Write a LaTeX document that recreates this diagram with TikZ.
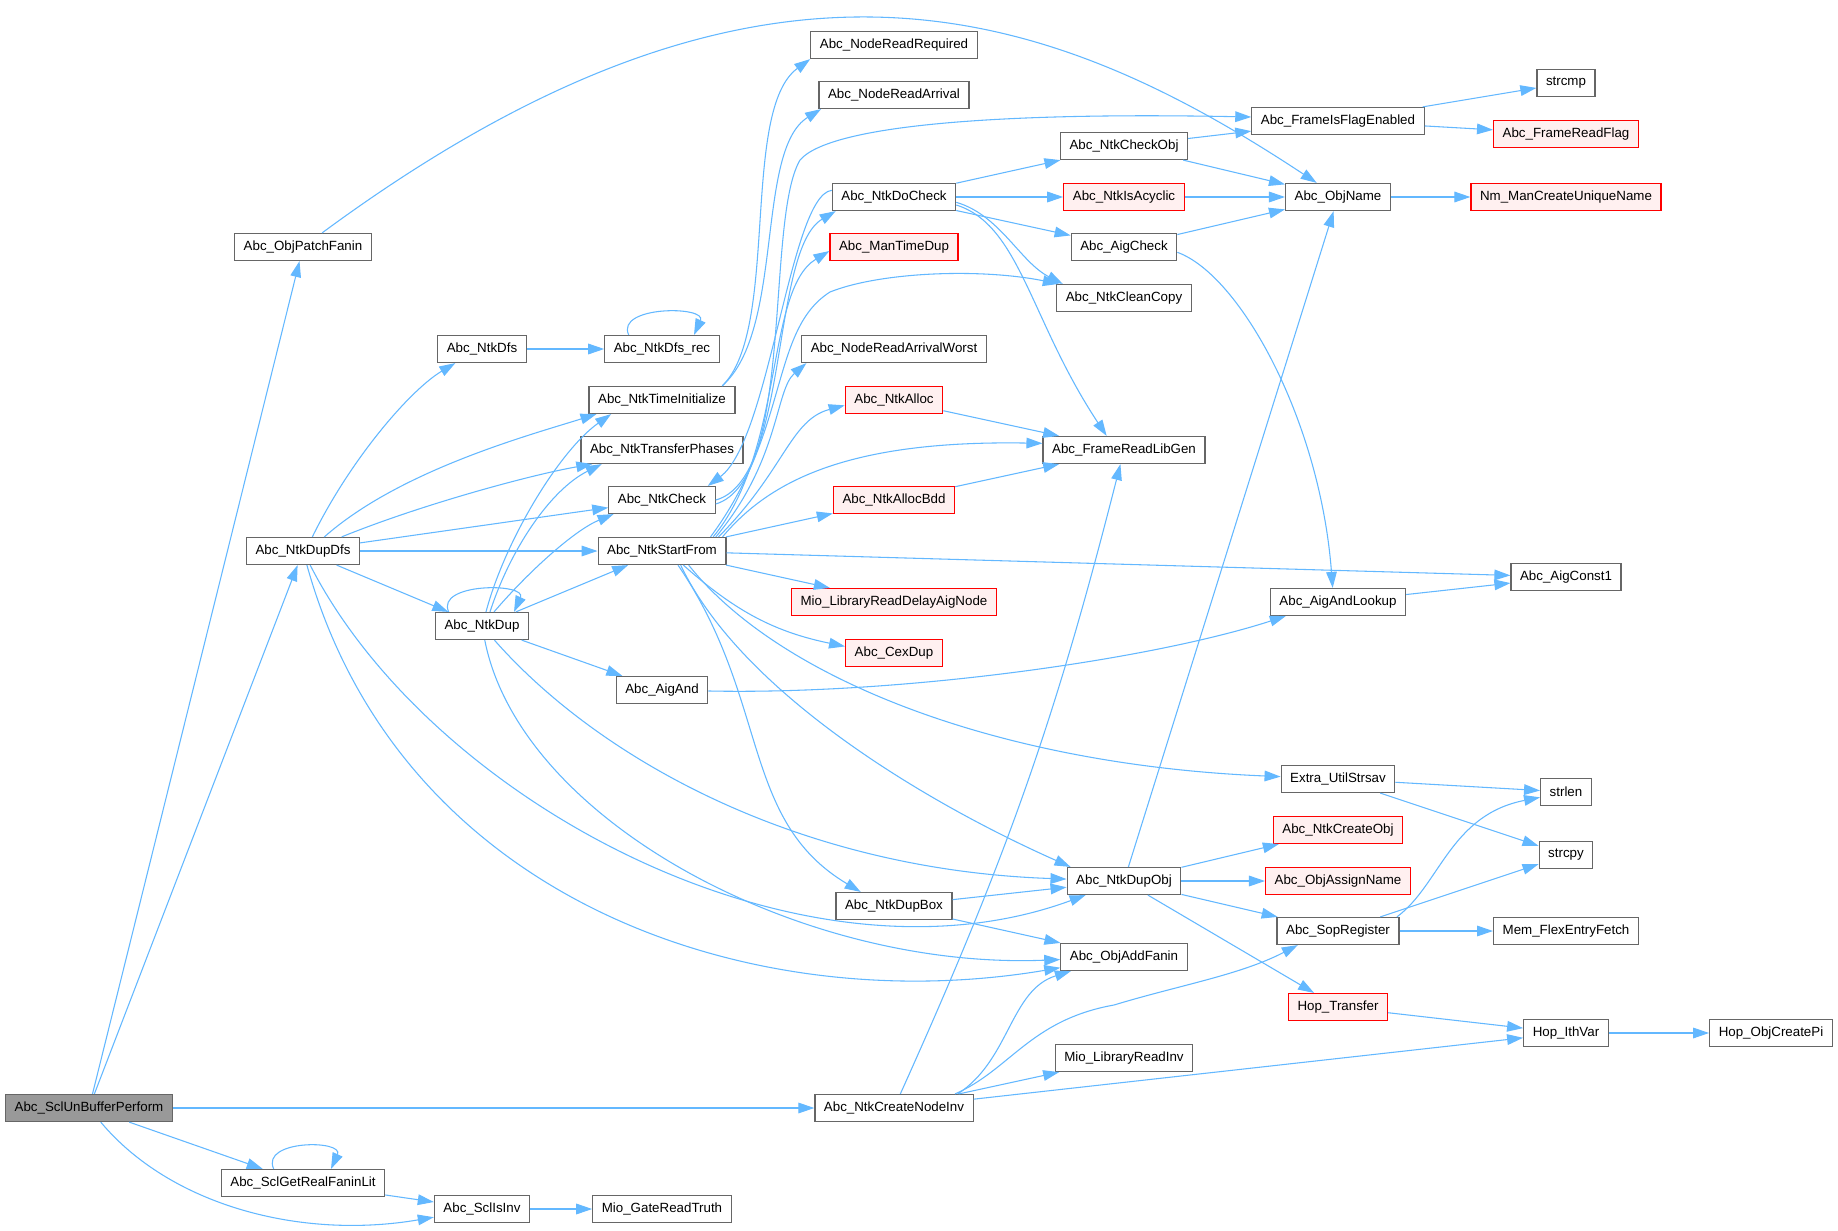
\documentclass[tikz,border=0pt]{standalone}
\usepackage{fontspec}
\setmainfont{Liberation Sans}
\usetikzlibrary{arrows.meta}

\definecolor{calledge}{HTML}{63B8FF}
\definecolor{boxline}{HTML}{666666}
\definecolor{redfill}{HTML}{FFF0F0}
\definecolor{rootfill}{HTML}{999999}

\begin{document}
\begin{tikzpicture}[
    x=0.75pt, y=-0.75pt,
    func/.style={draw=boxline, fill=white, line width=0.9pt, inner xsep=6.8pt, inner ysep=0pt, minimum height=20.25pt, font=\fontsize{10}{12}\selectfont},
    redfunc/.style={func, draw=red, fill=redfill},
    rootfunc/.style={func, fill=rootfill},
    call/.style={draw=calledge, line width=0.8pt, -{Triangle[length=12pt, width=8pt]}}
]
\path[use as bounding box, fill=white] (0,0) rectangle (1838,1231);

% Caller
\node[rootfunc] (sub) at (89,1108) {Abc\_SclUnBufferPerform};

% Second column
\node[func] (patch) at (303,247) {Abc\_ObjPatchFanin};
\node[func] (dupdfs) at (303,551) {Abc\_NtkDupDfs};
\node[func] (getlit) at (303,1183) {Abc\_SclGetRealFaninLit};

% Third column
\node[func] (dfs) at (482,349) {Abc\_NtkDfs};
\node[func] (dup) at (482,626) {Abc\_NtkDup};
\node[func] (isinv) at (482,1209) {Abc\_SclIsInv};

% Fourth column
\node[func] (dfsrec) at (662,349) {Abc\_NtkDfs\_rec};
\node[func] (timeinit) at (662,400) {Abc\_NtkTimeInitialize};
\node[func] (phases) at (662,450) {Abc\_NtkTransferPhases};
\node[func] (check) at (662,500) {Abc\_NtkCheck};
\node[func] (startfrom) at (662,551) {Abc\_NtkStartFrom};
\node[func] (aigand) at (662,690) {Abc\_AigAnd};
\node[func] (truth) at (662,1209) {Mio\_GateReadTruth};

% Fifth column
\node[func] (readreq) at (894,45) {Abc\_NodeReadRequired};
\node[func] (readarr) at (894,95) {Abc\_NodeReadArrival};
\node[func] (docheck) at (894,197) {Abc\_NtkDoCheck};
\node[redfunc] (timedup) at (894,247) {Abc\_ManTimeDup};
\node[func] (arrworst) at (894,349) {Abc\_NodeReadArrivalWorst};
\node[redfunc] (ntkalloc) at (894,400) {Abc\_NtkAlloc};
\node[redfunc] (allocbdd) at (894,500) {Abc\_NtkAllocBdd};
\node[redfunc] (delayaig) at (894,602) {Mio\_LibraryReadDelayAigNode};
\node[redfunc] (cexdup) at (894,653) {Abc\_CexDup};
\node[func] (dupbox) at (894,906) {Abc\_NtkDupBox};
\node[func] (nodeinv) at (894,1108) {Abc\_NtkCreateNodeInv};

% Sixth column
\node[func] (checkobj) at (1124,146) {Abc\_NtkCheckObj};
\node[redfunc] (acyclic) at (1124,197) {Abc\_NtkIsAcyclic};
\node[func] (aigcheck) at (1124,247) {Abc\_AigCheck};
\node[func] (cleancopy) at (1124,298) {Abc\_NtkCleanCopy};
\node[func] (libgen) at (1124,450) {Abc\_FrameReadLibGen};
\node[func] (dupobj) at (1124,881) {Abc\_NtkDupObj};
\node[func] (addfanin) at (1124,957) {Abc\_ObjAddFanin};
\node[func] (readinv) at (1124,1058) {Mio\_LibraryReadInv};

% Seventh column
\node[func] (flagen) at (1338,121) {Abc\_FrameIsFlagEnabled};
\node[func] (objname) at (1338,197) {Abc\_ObjName};
\node[func] (andlookup) at (1338,602) {Abc\_AigAndLookup};
\node[func] (strsav) at (1338,779) {Extra\_UtilStrsav};
\node[redfunc] (createobj) at (1338,830) {Abc\_NtkCreateObj};
\node[redfunc] (assignname) at (1338,881) {Abc\_ObjAssignName};
\node[func] (sopreg) at (1338,931) {Abc\_SopRegister};
\node[redfunc] (hoptrans) at (1338,1007) {Hop\_Transfer};

% Eighth column
\node[func] (strcmp) at (1566,83) {strcmp};
\node[redfunc] (readflag) at (1566,134) {Abc\_FrameReadFlag};
\node[redfunc] (uniqname) at (1566,197) {Nm\_ManCreateUniqueName};
\node[func] (const1) at (1566,577) {Abc\_AigConst1};
\node[func] (strlen) at (1566,792) {strlen};
\node[func] (strcpy) at (1566,855) {strcpy};
\node[func] (flexfetch) at (1566,931) {Mem\_FlexEntryFetch};
\node[func] (ithvar) at (1566,1033) {Hop\_IthVar};
\node[func] (createpi) at (1771,1033) {Hop\_ObjCreatePi};

% Calls from the caller
\draw[call] (sub) -- (patch);
\draw[call] (sub) -- (dupdfs);
\draw[call] (sub) -- (nodeinv);
\draw[call] (sub) -- (getlit);
\draw[call] (sub) .. controls (170,1205) and (300,1240) .. (isinv);
\draw[call] ([xshift=-22pt]getlit.north) .. controls +(-10pt,22pt) and +(10pt,22pt) .. ([xshift=21pt]getlit.north);
\draw[call] (getlit) -- (isinv);
\draw[call] (isinv) -- (truth);
\draw[call] (patch) .. controls (760,-90) and (1040,0) .. (objname);

% Abc_NtkDupDfs
\draw[call] ([xshift=7pt]dupdfs.north) .. controls (350,460) and (410,390) .. ([xshift=-20pt]dfs.south);
\draw[call] ([xshift=16pt]dupdfs.north) .. controls (400,470) and (530,435) .. ([xshift=6pt]timeinit.south west);
\draw[call] ([xshift=29pt]dupdfs.north) .. controls (420,505) and (530,475) .. ([xshift=9pt]phases.south west);
\draw[call] (dupdfs) -- (check);
\draw[call] (dupdfs) -- (startfrom);
\draw[call] (dupdfs) -- (dup);
\draw[call] (dupdfs) .. controls (430,800) and (800,1000) .. (dupobj);
\draw[call] (dupdfs) .. controls (400,900) and (750,1020) .. (addfanin);
\draw[call] (dfs) -- (dfsrec);
\draw[call] ([xshift=-25pt]dfsrec.north) .. controls +(-10pt,22pt) and +(10pt,22pt) .. ([xshift=24pt]dfsrec.north);

% Abc_NtkDup
\draw[call] ([xshift=-25pt]dup.north) .. controls +(-10pt,22pt) and +(10pt,22pt) .. ([xshift=24pt]dup.north);
\draw[call] ([xshift=3pt]dup.north) .. controls (505,540) and (560,450) .. ([xshift=17pt]timeinit.south west);
\draw[call] ([xshift=6pt]dup.north) .. controls (510,550) and (550,490) .. ([xshift=16pt]phases.south west);
\draw[call] ([xshift=9pt]dup.north) .. controls (530,570) and (575,530) .. ([xshift=4pt]check.south west);
\draw[call] (dup) -- (startfrom);
\draw[call] (dup) -- (aigand);
\draw[call] (dup) .. controls (600,760) and (800,870) .. (dupobj);
\draw[call] (dup) .. controls (520,820) and (800,970) .. (addfanin);

% timing and checking bundle
\draw[call] ([xshift=-10pt]timeinit.north east) .. controls (780,330) and (740,110) .. (readreq.south west);
\draw[call] ([xshift=-10pt]timeinit.north east) .. controls (785,330) and (755,150) .. ([xshift=2pt]readarr.south west);
\draw[call] (check.east) .. controls (790,480) and (770,250) .. ([xshift=3pt]docheck.south west);
\draw[call] ([yshift=-3pt]check.east) .. controls (795,480) and (765,220) .. (800,160) .. controls (830,125) and (1000,112) .. ([yshift=3pt]flagen.west);
\draw[call] ([yshift=5pt]docheck.west) .. controls (790,195) and (770,440) .. ([xshift=-6pt]check.north east);

% Abc_NtkStartFrom
\draw[call] ([xshift=-6pt]startfrom.north east) .. controls (785,470) and (790,420) .. ([yshift=-4pt]ntkalloc.west);
\draw[call] ([xshift=-8pt]startfrom.north east) .. controls (780,460) and (775,390) .. ([xshift=4pt]arrworst.south west);
\draw[call] ([xshift=-10pt]startfrom.north east) .. controls (785,450) and (765,290) .. ([yshift=-3pt]timedup.west);
\draw[call] ([xshift=-12pt]startfrom.north east) .. controls (790,430) and (770,330) .. (830,292) .. controls (880,272) and (980,268) .. ([xshift=2pt]cleancopy.north west);
\draw[call] ([xshift=-3pt]startfrom.north east) .. controls (770,480) and (850,440) .. ([yshift=5pt]libgen.west);
\draw[call] (startfrom) -- (allocbdd);
\draw[call] (startfrom) -- (delayaig);
\draw[call] ([xshift=16pt]startfrom.south) to[bend right=15] (cexdup);
\draw[call] (startfrom) -- (const1);
\draw[call] ([xshift=20pt]startfrom.south) .. controls (780,680) and (1000,765) .. (strsav);
\draw[call] ([xshift=14pt]startfrom.south) .. controls (740,690) and (920,800) .. ([xshift=3pt]dupobj.north west);
\draw[call] ([xshift=12pt]startfrom.south) .. controls (770,700) and (740,820) .. ([xshift=-25pt]dupbox.north);

% Abc_NtkDoCheck
\draw[call] (docheck) -- (checkobj);
\draw[call] (docheck) -- (acyclic);
\draw[call] (docheck) -- (aigcheck);
\draw[call] ([yshift=-4pt]docheck.east) .. controls (1000,215) and (1020,262) .. ([xshift=5pt]cleancopy.north west);
\draw[call] ([yshift=-6pt]docheck.east) .. controls (1020,225) and (1030,320) .. ([xshift=-13pt]libgen.north);
\draw[call] (checkobj) -- (flagen);
\draw[call] (checkobj) -- (objname);
\draw[call] (acyclic) -- (objname);
\draw[call] (aigcheck) -- (objname);
\draw[call] ([yshift=-4pt]aigcheck.east) .. controls (1240,275) and (1320,420) .. ([xshift=-4pt]andlookup.north);
\draw[call] (flagen) -- (strcmp);
\draw[call] (flagen) -- (readflag);
\draw[call] (objname) -- (uniqname);
\draw[call] (ntkalloc) -- (libgen);
\draw[call] (allocbdd) -- (libgen);

% objects
\draw[call] (aigand) .. controls (900,695) and (1150,660) .. ([xshift=12pt]andlookup.south west);
\draw[call] (andlookup) -- (const1);
\draw[call] (strsav) -- (strlen);
\draw[call] (strsav) -- (strcpy);
\draw[call] (dupobj) -- (objname);
\draw[call] (dupobj) -- (createobj);
\draw[call] (dupobj) -- (assignname);
\draw[call] (dupobj) -- (sopreg);
\draw[call] (dupobj) -- (hoptrans);
\draw[call] (dupbox) -- (dupobj);
\draw[call] (dupbox) -- (addfanin);
\draw[call] (nodeinv) to[bend right=5] (libgen);
\draw[call] ([xshift=-12pt]nodeinv.north east) .. controls (1010,1060) and (1010,990) .. ([xshift=8pt]addfanin.south west);
\draw[call] ([xshift=-14pt]nodeinv.north east) .. controls (1010,1070) and (1030,1020) .. (1114,1005) .. controls (1180,985) and (1240,975) .. ([xshift=16pt]sopreg.south west);
\draw[call] (nodeinv) -- (readinv);
\draw[call] (nodeinv) -- (ithvar);
\draw[call] (sopreg) -- (flexfetch);
\draw[call] (sopreg) -- (strcpy);
\draw[call] ([xshift=-2pt]sopreg.north east) .. controls (1440,885) and (1450,815) .. ([yshift=-4pt]strlen.west);
\draw[call] (hoptrans) -- (ithvar);
\draw[call] (ithvar) -- (createpi);

\end{tikzpicture}
\end{document}
